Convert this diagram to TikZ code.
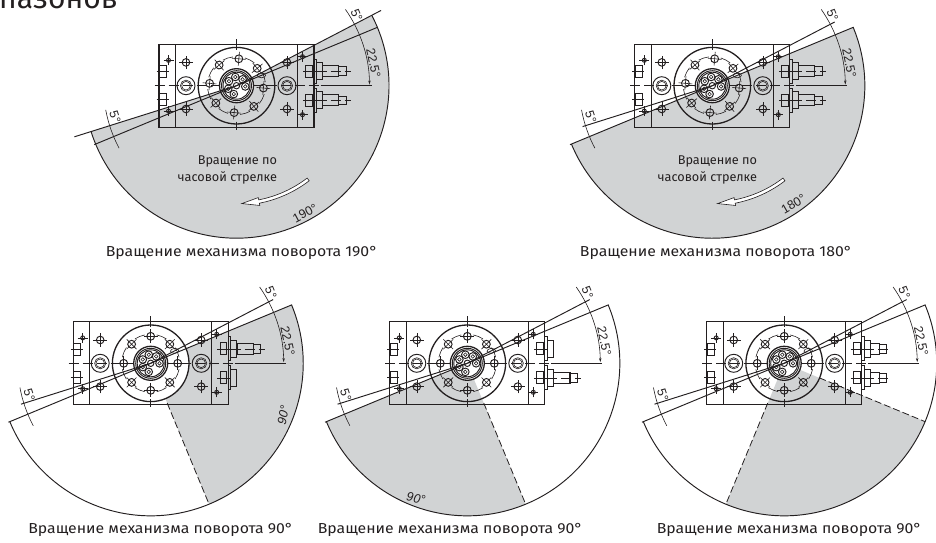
\documentclass[tikz,border=0pt]{standalone}
\usepackage{fontspec}
\setmainfont{Fira Sans}
\newfontfamily\dimfont{Liberation Sans}
\newfontfamily\capfont[FakeStretch=1.09]{Fira Sans}
\usepackage{xcolor}
\usetikzlibrary{arrows.meta}
\definecolor{inkcol}{HTML}{231F20}
\definecolor{sectorcol}{HTML}{D1D3D4}
\tikzset{
  thinline/.style={line width=0.6pt,color=inkcol},
  partline/.style={line width=0.95pt,color=inkcol},
  heavyline/.style={line width=1.3pt,color=inkcol},
  centreline/.style={line width=0.6pt,color=inkcol,dash pattern=on 10pt off 4pt},
  limitline/.style={line width=0.8pt,color=inkcol,dash pattern=on 7pt off 3pt},
  dimtext/.style={font=\dimfont\fontsize{12.5}{12.5}\selectfont,text=inkcol,inner sep=0pt},
  slanttext/.style={font=\dimfont\itshape\fontsize{12.5}{12.5}\selectfont,text=inkcol,inner sep=0pt},
  caption/.style={font=\capfont\fontsize{14.5}{15}\selectfont,text=inkcol,inner sep=0pt},
  turntext/.style={font=\fontsize{12.7}{14}\selectfont,text=inkcol,inner sep=0pt,align=right,anchor=base east},
  sector/.style={fill=sectorcol,draw=none},
}
% small hole with its cross
\newcommand{\crosshole}[3]{
  \draw[partline] (#1,#2) circle[radius=#3];
  \draw[thinline] (#1-#3-3,#2) -- (#1+#3+3,#2) (#1,#2-#3-3) -- (#1,#2+#3+3);
}
% gray sector from angle #1 to angle #2
\newcommand{\sectorfill}[2]{
  \fill[sector] (0,0) -- (#1:152.5) arc[start angle=#1,end angle=#2,radius=152.5pt] -- cycle;
}
\newcommand{\sensorbase}[1]{
  \draw[partline] (69.3,#1-6) rectangle (76.2,#1+6);
  \draw[partline] (77.5,#1-12) rectangle (80.2,#1+12);
  \draw[partline] (80.2,#1-8.7) rectangle (86.2,#1+8.7);
  \draw[thinline] (66.5,#1) -- (80,#1);
}
% sensor with body up to #2 and tip up to #3
\newcommand{\sensorlong}[3]{
  \sensorbase{#1}
  \draw[heavyline] (86.2,#1-5.5) rectangle (#2,#1+5.5);
  \draw[partline] (#2,#1-4.2) rectangle (#3,#1+4.2);
  \draw[centreline] (80,#1) -- (#3+4,#1);
}
% the unit itself, #1 turns the hole circle
\newcommand{\rotunit}[1]{
  \draw[heavyline] (-77.5,-41.5) rectangle (77.5,41.5);
  \draw[heavyline] (-61,-41.5) -- (-61,41.5) (61,-41.5) -- (61,41.5);
  \draw[heavyline] (0,0) circle[radius=38.3];
  \draw[thinline] (0,36) -- (0,47) (0,-36) -- (0,-44);
  \draw[centreline] (-82,0) -- (85,0);
  \draw[partline] (-77,8) rectangle (-70,20);
  \draw[partline] (-77,-20) rectangle (-70,-8);
  \draw[thinline] (-80,14) -- (-68,14) (-80,-14) -- (-68,-14);
  \foreach \sx in {-50.5,50.5}{
    \draw[partline] (\sx,0) circle[radius=9];
    \draw[thinline] (\sx,0) circle[radius=5.6];
    \draw[thinline] (\sx,0) circle[radius=4.3];
    \crosshole{\sx}{23.3}{3.8}
    \crosshole{\sx}{-23.3}{3.8}
  }
  \crosshole{-68}{25.4}{2}
  \crosshole{-68}{-25.4}{2}
  \crosshole{66}{29}{2}
  \crosshole{66}{-29}{2}
  \foreach \a in {0,45,...,315}{
    \begin{scope}[rotate=\a+#1]
      \crosshole{27}{0}{3.9}
      \draw[thinline] (12:29) arc[start angle=12,end angle=33,radius=29pt];
    \end{scope}
  }
  \draw[thinline,rotate=#1+5] (22.5:27) ellipse[x radius=4.2,y radius=2.4];
  % hub
  \draw[heavyline,fill=white] (0,0) circle[radius=17];
  \draw[partline] (0,0) circle[radius=15];
  \draw[partline] (0,0) circle[radius=13.5];
  \foreach \a in {0,51.4,...,308}{
    \draw[partline] (\a+#1:8.8) circle[radius=3.8];
    \draw[thinline] (\a+#1:8.8) circle[radius=1.8];
  }
  \draw[partline] (0,0) circle[radius=3.2];
}
% limit lines with the dimension arcs, #1 and #2 are the ends of the long rays
\newcommand{\rotlimits}[2]{
  \draw[partline] (0,0) -- (27.5:#1);
  \draw[partline] (0,0) -- (22.5:153);
  \draw[partline] (0,0) -- (197.5:#2);
  \draw[partline] (0,0) -- (202.5:154);
  \draw[thinline,-{Stealth[length=4pt,width=2.4pt]}] (35:133) arc[start angle=35,end angle=0.5,radius=133pt];
  \draw[thinline] (190.5:133) arc[start angle=190.5,end angle=208,radius=133pt];
  \draw[thinline] (84,0) -- (135,0);
  \node[dimtext,rotate=-68] (top5) at (120.2,70.7) {5°};
  \node[dimtext,rotate=-78] (dim22) at (137,22.3) {22.5°};
  \node[dimtext,rotate=-72] (left5) at (-121.4,-31.6) {5°};
}
% hollow rotation arrow
\newcommand{\rotarrow}{
  \draw[thinline,fill=white] (-52.6:119.7) arc[start angle=-52.6,end angle=-79,radius=119.7pt]
    -- (-79:122) -- (-87.4:118) -- (-79:114) -- (-79:116.3)
    arc[start angle=-79,end angle=-52.6,radius=116.3pt] -- cycle;
}
\begin{document}
\begin{tikzpicture}[x=1pt,y=1pt]
  \useasboundingbox (0,0) rectangle (936,542);
  \node[anchor=base west,inner sep=0pt,font=\fontsize{30}{30}\selectfont,text=inkcol] (heading) at (-1,533) {пазонов};

  % clockwise 190
  \begin{scope}[shift={(236.5,456.3)}]
    \sectorfill{27.5}{-162.5}
    \draw[partline] (27.5:152.5) arc[start angle=27.5,end angle=-162.5,radius=152.5pt];
    \rotunit{-5}
    \sensorlong{14.7}{102}{110}
    \sensorlong{-14.5}{102}{110}
    \rotlimits{163}{170}
    \rotarrow
    \node[dimtext,rotate=28] (deg190) at (68.5,-127.6) {190°};
  \end{scope}
  \node[turntext] (turn190) at (277.3,361) {Вращение по\\[2.2pt]часовой стрелке};
  \node[caption] (cap190) at (241.7,289) {Вращение механизма поворота 190°};

  % clockwise 180
  \begin{scope}[shift={(712.3,456.3)}]
    \sectorfill{22.5}{-157.5}
    \draw[partline] (22.5:152.5) arc[start angle=22.5,end angle=-157.5,radius=152.5pt];
    \rotunit{-5}
    \sensorlong{14.7}{102}{110}
    \sensorlong{-14.5}{102}{110}
    \rotlimits{138}{136}
    \rotarrow
    \node[dimtext,rotate=30] (deg180) at (81,-118.3) {180°};
  \end{scope}
  \node[turntext] (turn180) at (757.3,361) {Вращение по\\[2.2pt]часовой стрелке};
  \node[caption] (cap180) at (716,289) {Вращение механизма поворота 180°};

  % 90, upper part
  \begin{scope}[shift={(150.7,178.7)}]
    \sectorfill{22.5}{-67.5}
    \fill[white] (0,0) circle[radius=38.3];
    \draw[partline] (22.5:152.5) arc[start angle=22.5,end angle=-157.5,radius=152.5pt];
    \rotunit{0}
    \sensorlong{14.5}{102.7}{110}
    \sensorbase{-14.5}
    \rotlimits{138}{136}
    \draw[limitline] (-67.5:43) -- (-67.5:152.5);
    \node[slanttext,rotate=78] (deg90a) at (132.6,-51.7) {90°};
  \end{scope}
  \node[caption] (cap90a) at (160.8,12) {Вращение механизма поворота 90°};

  % 90, lower part
  \begin{scope}[shift={(467.3,178.7)}]
    \sectorfill{-157.5}{-67.5}
    \draw[partline] (22.5:152.5) arc[start angle=22.5,end angle=-157.5,radius=152.5pt];
    \rotunit{0}
    \sensorbase{14.5}
    \sensorlong{-14.5}{102.7}{110}
    \rotlimits{138}{136}
    \draw[limitline] (-67.5:43) -- (-67.5:152.5);
    \node[slanttext,rotate=-10] (deg90b) at (-51.3,-135) {90°};
  \end{scope}
  \node[caption] (cap90b) at (450.3,12) {Вращение механизма поворота 90°};

  % 90, centre part
  \begin{scope}[shift={(784.2,178.7)}]
    \sectorfill{-112.5}{-22.5}
    \draw[partline] (22.5:152.5) arc[start angle=22.5,end angle=-157.5,radius=152.5pt];
    \rotunit{0}
    \sensorlong{14.5}{95.3}{102}
    \sensorlong{-14.5}{95.3}{102}
    \rotlimits{138}{136}
    \draw[limitline] (-112.5:43) -- (-112.5:152.5);
    \draw[limitline] (-22.5:38) -- (-22.5:152.5);
  \end{scope}
  \node[caption] (cap90c) at (789.2,12) {Вращение механизма поворота 90°};
\end{tikzpicture}
\end{document}
